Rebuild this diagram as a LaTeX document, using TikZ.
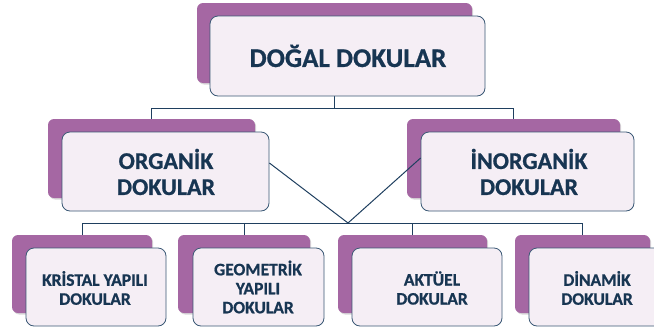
\documentclass[tikz,border=0pt]{standalone}
\usepackage{fontspec}
\setmainfont{Carlito}[BoldFeatures={FakeBold=0.8}]
\usetikzlibrary{shadows}
\definecolor{purp}{HTML}{A567A3}
\definecolor{txt}{HTML}{173552}
\definecolor{edge}{HTML}{3A5875}
\definecolor{lav}{HTML}{F5EEF5}
\definecolor{wire}{HTML}{1F3F5F}
\pgfdeclarelayer{bg}
\pgfsetlayers{bg,main}
\tikzset{
  purpbox/.style={rectangle, rounded corners=6pt, fill=purp, draw=none, inner sep=0pt,
    drop shadow={shadow xshift=1.2pt, shadow yshift=-1.5pt, opacity=0.25, fill=black!60}},
  whitebox/.style={rectangle, rounded corners=8pt, fill=lav, draw=edge, line width=0.8pt,
    inner sep=0pt, align=center, text=txt, font=\bfseries},
  wireline/.style={draw=wire, line width=1pt},
  bigtxt/.style={font=\bfseries\fontsize{27}{30}\selectfont},
  midtxt/.style={font=\bfseries\fontsize{24}{26}\selectfont},
  smalltxt/.style={font=\bfseries\fontsize{17.5}{19}\selectfont}
}
\begin{document}
\begin{tikzpicture}[x=1pt,y=-1pt]
\useasboundingbox (0,0) rectangle (654,327);
% purple backs
\node[purpbox, minimum width=275pt, minimum height=80pt] (tp) at (334.5,43) {};
\node[purpbox, minimum width=207pt, minimum height=79pt] (op) at (151.5,158.5) {};
\node[purpbox, minimum width=213pt, minimum height=79pt] (ip) at (513.5,158.5) {};
\node[purpbox, minimum width=140pt, minimum height=78pt] (b1p) at (82,274) {};
\node[purpbox, minimum width=132pt, minimum height=78pt] (b2p) at (244,274) {};
\node[purpbox, minimum width=149pt, minimum height=78pt] (b3p) at (412.5,274) {};
\node[purpbox, minimum width=135pt, minimum height=78pt] (b4p) at (582.5,274) {};
% white fronts
\node[whitebox, minimum width=275pt, minimum height=80pt] (tw) at (347.5,56) {};
\node[txt, bigtxt] (tt) at (348,56) {DOĞAL DOKULAR};
\node[whitebox, minimum width=207pt, minimum height=79pt] (ow) at (165.5,171.5) {};
\node[txt, midtxt, align=center] (ot) at (166,172) {ORGANİK\\DOKULAR};
\node[whitebox, minimum width=213pt, minimum height=79pt] (iw) at (527.5,171.5) {};
\node[txt, midtxt, align=center] (it) at (529,172) {İNORGANİK\\DOKULAR};
\node[whitebox, minimum width=140pt, minimum height=78pt] (b1w) at (96,287) {};
\node[txt, smalltxt, align=center] (b1t) at (95,288) {KRİSTAL YAPILI\\DOKULAR};
\node[whitebox, minimum width=131pt, minimum height=78pt] (b2w) at (258.5,287) {};
\node[txt, smalltxt, align=center] (b2t) at (258,287) {GEOMETRİK\\YAPILI\\DOKULAR};
\node[whitebox, minimum width=150pt, minimum height=78pt] (b3w) at (427,287) {};
\node[txt, smalltxt, align=center] (b3t) at (432,288) {AKTÜEL\\DOKULAR};
\node[whitebox, minimum width=135pt, minimum height=78pt] (b4w) at (596.5,287) {};
\node[txt, smalltxt, align=center] (b4t) at (597,288) {DİNAMİK\\DOKULAR};
% connectors
\coordinate (j1) at (334.5,108);
\coordinate (j2) at (348,223);
\begin{pgfonlayer}{bg}
\draw[wireline] (tp.south) -- (j1);
\draw[wireline] (op.north) -- (op.north |- j1) -- (ip.north |- j1) -- (ip.north);
\draw[wireline] (b1p.north) -- (b1p.north |- j2) -- (b4p.north |- j2) -- (b4p.north);
\draw[wireline] (b2p.north |- j2) -- (b2p.north);
\draw[wireline] (b3p.north |- j2) -- (b3p.north);
\end{pgfonlayer}
\draw[wireline] ([yshift=8.5pt]ow.east) -- (j2);
\draw[wireline] ([yshift=13.5pt]iw.west) -- (j2);
\end{tikzpicture}
\end{document}
